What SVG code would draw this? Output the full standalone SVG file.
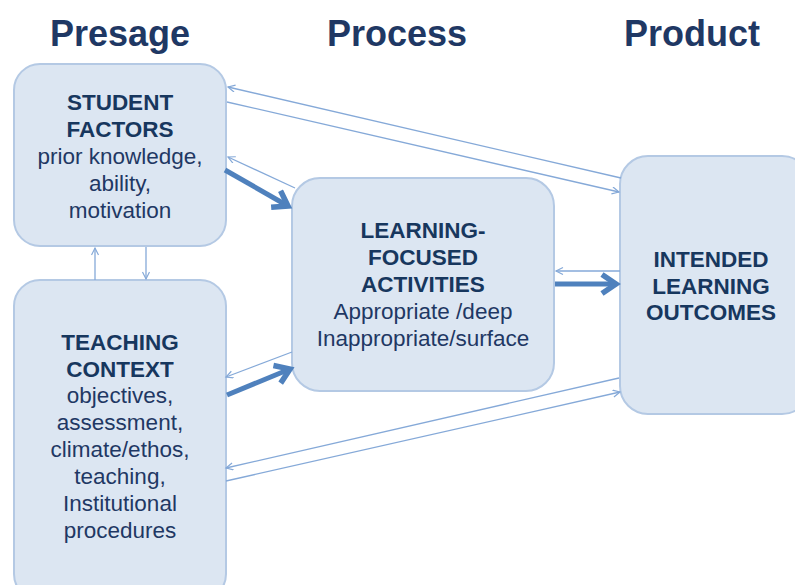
<svg xmlns="http://www.w3.org/2000/svg" width="795" height="585" viewBox="0 0 795 585">
<style>
.box{fill:#dce6f2;stroke:#b4c9e4;stroke-width:2}
.title{font-family:"Liberation Sans",Arial,sans-serif;font-weight:bold;font-size:36px;fill:#1f3864;text-anchor:middle}
.h{font-family:"Liberation Sans",Arial,sans-serif;font-weight:bold;font-size:22.5px;fill:#17375e;text-anchor:middle}
.b{font-family:"Liberation Sans",Arial,sans-serif;font-size:22.5px;fill:#1f3864;text-anchor:middle}
.thin{stroke:#85a9d8;stroke-width:1.3;fill:none;marker-end:url(#ah)}
.thick{stroke:#4f81bd;stroke-width:5;fill:none;marker-end:url(#ahk)}
</style>
<defs>
<marker id="ah" markerUnits="userSpaceOnUse" markerWidth="12" markerHeight="12" refX="8" refY="4" orient="auto">
<path d="M1,0.5 L8,4 L1,7.5" fill="none" stroke="#85a9d8" stroke-width="1.2"/>
</marker>
<marker id="ahk" markerUnits="userSpaceOnUse" markerWidth="28" markerHeight="28" refX="18" refY="12" orient="auto">
<path d="M4,2.5 L18,12 L4,21.5" fill="none" stroke="#4f81bd" stroke-width="5.5" stroke-linejoin="miter"/>
</marker>
</defs>
<text class="title" x="120" y="46">Presage</text>
<text class="title" x="397" y="46">Process</text>
<text class="title" x="692" y="46">Product</text>
<g id="student">
<rect class="box" x="14" y="64" width="212" height="182" rx="26"/>
<text class="h" x="120" y="110">STUDENT</text>
<text class="h" x="120" y="137">FACTORS</text>
<text class="b" x="120" y="164">prior knowledge,</text>
<text class="b" x="120" y="191">ability,</text>
<text class="b" x="120" y="218">motivation</text>
</g>
<g id="teaching">
<rect class="box" x="14" y="280" width="212" height="320" rx="26"/>
<text class="h" x="120" y="350">TEACHING</text>
<text class="h" x="120" y="377">CONTEXT</text>
<text class="b" x="120" y="403">objectives,</text>
<text class="b" x="120" y="430">assessment,</text>
<text class="b" x="120" y="457">climate/ethos,</text>
<text class="b" x="120" y="484">teaching,</text>
<text class="b" x="120" y="511">Institutional</text>
<text class="b" x="120" y="538">procedures</text>
</g>
<g id="learning">
<rect class="box" x="292" y="178" width="262" height="213" rx="28"/>
<text class="h" x="423" y="238">LEARNING-</text>
<text class="h" x="423" y="265">FOCUSED</text>
<text class="h" x="423" y="292">ACTIVITIES</text>
<text class="b" x="423" y="319">Appropriate /deep</text>
<text class="b" x="423" y="346">Inappropriate/surface</text>
</g>
<g id="intended">
<rect class="box" x="620" y="156" width="190" height="258" rx="28"/>
<text class="h" x="711" y="267">INTENDED</text>
<text class="h" x="711" y="294">LEARNING</text>
<text class="h" x="711" y="320">OUTCOMES</text>
</g>
<g id="connectors">
<line class="thin" x1="621" y1="178" x2="228" y2="87"/>
<line class="thin" x1="227" y1="102" x2="619" y2="192"/>
<line class="thin" x1="295" y1="188" x2="228" y2="157"/>
<line class="thick" x1="225" y1="170" x2="288" y2="206"/>
<line class="thin" x1="292" y1="352" x2="226" y2="377"/>
<line class="thick" x1="227" y1="395" x2="290" y2="369"/>
<line class="thin" x1="620" y1="271" x2="556" y2="271"/>
<line class="thick" x1="555" y1="284" x2="616" y2="284"/>
<line class="thin" x1="619" y1="378" x2="226" y2="468"/>
<line class="thin" x1="226" y1="481" x2="620" y2="392"/>
<line class="thin" x1="95" y1="280" x2="95" y2="248"/>
<line class="thin" x1="146" y1="247" x2="146" y2="279"/>
</g>
</svg>
